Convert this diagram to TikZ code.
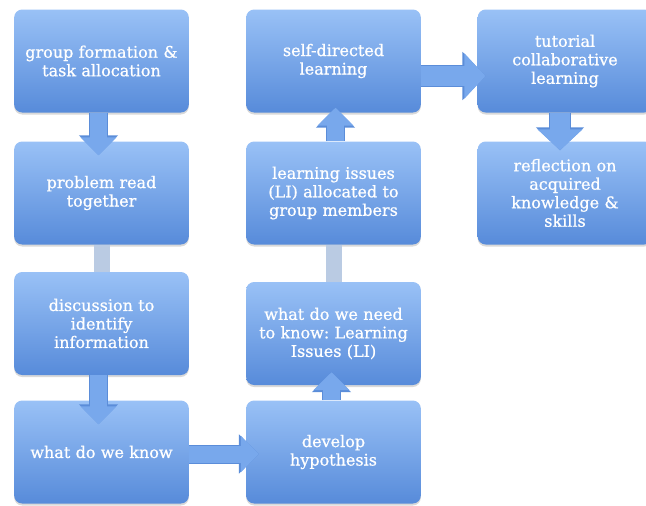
\documentclass[tikz,border=0pt]{standalone}
\usepackage{fontspec}
\setmainfont{DejaVu Serif}
\newfontfamily\stagefont[RawFeature={embolden=0.8}]{DejaVu Serif}
\usetikzlibrary{arrows.meta,shadows}

\definecolor{boxtop}{HTML}{99C1F6}
\definecolor{boxbottom}{HTML}{578BDA}
\definecolor{flowblue}{HTML}{78A8EC}
\definecolor{flowedge}{HTML}{5B8DD9}
\definecolor{linkgray}{HTML}{BACBE3}

\tikzset{
  stage/.style={rectangle, rounded corners=8pt, top color=boxtop, bottom color=boxbottom,
    minimum width=173pt, minimum height=103pt, text width=168pt, align=center,
    text=white, font=\stagefont\fontsize{16}{18.5}\selectfont\frenchspacing,
    drop shadow={shadow xshift=0pt, shadow yshift=-2pt, opacity=0.3}},
  flow/.style={draw=flowblue, line width=17pt, -{Triangle[length=18pt,width=35pt]},
    preaction={draw=flowedge, line width=19pt, -{Triangle[length=20pt,width=38pt]}}},
  bigflow/.style={draw=flowblue, line width=20pt, -{Triangle[length=21pt,width=44pt]},
    preaction={draw=flowedge, line width=22pt, -{Triangle[length=23pt,width=47pt]}}},
  link/.style={draw=linkgray, line width=16pt},
}

\begin{document}
\begin{tikzpicture}[x=1pt, y=-1pt]
  \useasboundingbox (0,0) rectangle (646,506);
  \clip (0,0) rectangle (646,506);

  % first column
  \node[stage] (group)    at (101.5,61)    {group formation \&\\task allocation};
  \node[stage] (problem)  at (101.5,193)   {problem read\\together};
  \node[stage] (discuss)  at (101.5,323.5) {discussion to\\identify\\information};
  \node[stage] (know)     at (101.5,452)   {what do we know};

  % second column
  \node[stage] (selfdir)  at (333.5,61)    {self-directed\\learning};
  \node[stage] (issues)   at (333.5,193)   {learning issues\\(LI) allocated to\\group members};
  \node[stage] (need)     at (333.5,333.5) {what do we need\\to know: Learning\\Issues (LI)};
  \node[stage] (develop)  at (333.5,452)   {develop\\hypothesis};

  % third column
  \node[stage] (tutorial) at (565,61)      {tutorial\\collaborative\\learning};
  \node[stage] (reflect)  at (565,193)     {reflection on\\acquired\\knowledge \&\\skills};

  % plain links
  \draw[link] (problem.south) -- (discuss.north);
  \draw[link] (issues.south) -- (need.north);

  % block arrows
  \draw[flow] ([xshift=-3pt]group.south) -- ([xshift=-3pt,yshift=-14pt]problem.north);
  \draw[flow] ([xshift=-3pt]discuss.south) -- ([xshift=-3pt,yshift=-24pt]know.north);
  \draw[flow] ([yshift=-2pt]know.east) -- ([xshift=13pt,yshift=-2pt]develop.west);
  \draw[flow] ([xshift=-2pt]develop.north) -- ([xshift=-2pt,yshift=13pt]need.south);
  \draw[flow] ([xshift=2pt]issues.north) -- ([xshift=2pt,yshift=5pt]selfdir.south);
  \draw[bigflow] ([yshift=-15pt]selfdir.east) -- ([xshift=8pt,yshift=-15pt]tutorial.west);
  \draw[bigflow] ([xshift=-5pt]tutorial.south) -- ([xshift=-5pt,yshift=-9pt]reflect.north);
\end{tikzpicture}
\end{document}
